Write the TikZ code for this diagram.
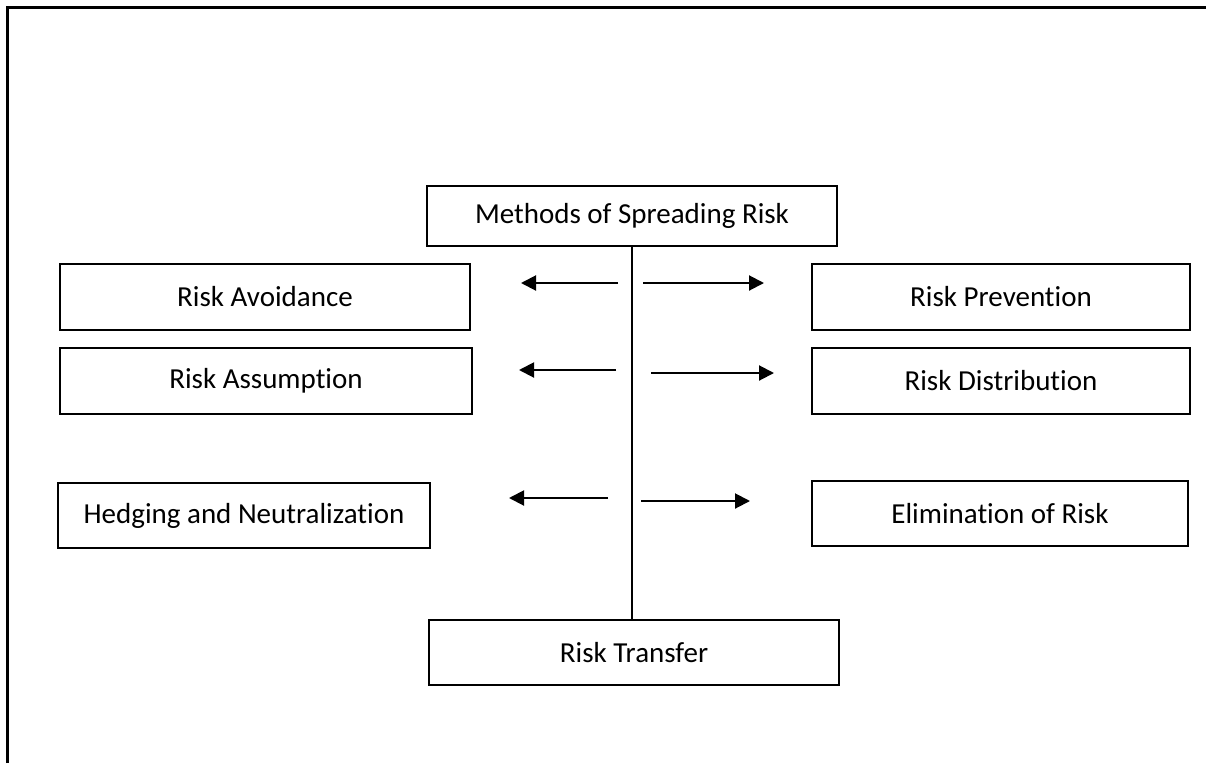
\documentclass[tikz,border=0pt]{standalone}
\usepackage{fontspec}
\setmainfont{Carlito}[Ligatures={NoCommon}]
\usetikzlibrary{arrows.meta}
\begin{document}
\begin{tikzpicture}[x=1pt,y=-1pt,
  box/.style={draw=black, line width=1.4pt, inner sep=0pt, align=center,
    font=\fontsize{29}{35}\selectfont},
  arr/.style={line width=2pt, -{Triangle[length=15pt,width=15pt]}},
  stem/.style={line width=1.6pt}]
  \useasboundingbox (0,0) rectangle (1206,763);
  % page frame: top and left edges only
  \draw[line width=2.6pt] (7.5,763) -- (7.5,7.5) -- (1206,7.5);

  % boxes
  \node[box, minimum width=410pt, minimum height=60pt] (top) at (632,216) {Methods of Spreading Risk};
  \node[box, minimum width=410pt, minimum height=66pt] (avoid) at (265,297) {Risk Avoidance};
  \node[box, minimum width=378pt, minimum height=66pt] (prev) at (1001,297) {Risk Prevention};
  \node[box, minimum width=412pt, minimum height=66pt] (assume) at (266,381) {Risk Assumption};
  \node[box, minimum width=378pt, minimum height=66pt] (dist) at (1001,381) {Risk Distribution};
  \node[box, minimum width=372pt, minimum height=65pt] (hedge) at (244,515.5) {Hedging and Neutralization};
  \node[box, minimum width=376pt, minimum height=65pt] (elim) at (1000,513.5) {Elimination of Risk};
  \node[box, minimum width=410pt, minimum height=65pt] (trans) at (634,652.5) {Risk Transfer};

  % central stem
  \draw[stem] (top.south -| 632,0) -- (trans.north -| 632,0);

  % arrow end points
  \coordinate (a1s) at (618,283); \coordinate (a1e) at (521,283);
  \coordinate (b1s) at (643,283); \coordinate (b1e) at (764,283);
  \coordinate (a2s) at (616,370); \coordinate (a2e) at (519,370);
  \coordinate (b2s) at (651,373); \coordinate (b2e) at (774,373);
  \coordinate (a3s) at (608,498); \coordinate (a3e) at (509,498);
  \coordinate (b3s) at (641,501); \coordinate (b3e) at (750,501);

  \draw[arr] (a1s) -- (a1e);
  \draw[arr] (b1s) -- (b1e);
  \draw[arr] (a2s) -- (a2e);
  \draw[arr] (b2s) -- (b2e);
  \draw[arr] (a3s) -- (a3e);
  \draw[arr] (b3s) -- (b3e);
\end{tikzpicture}
\end{document}
